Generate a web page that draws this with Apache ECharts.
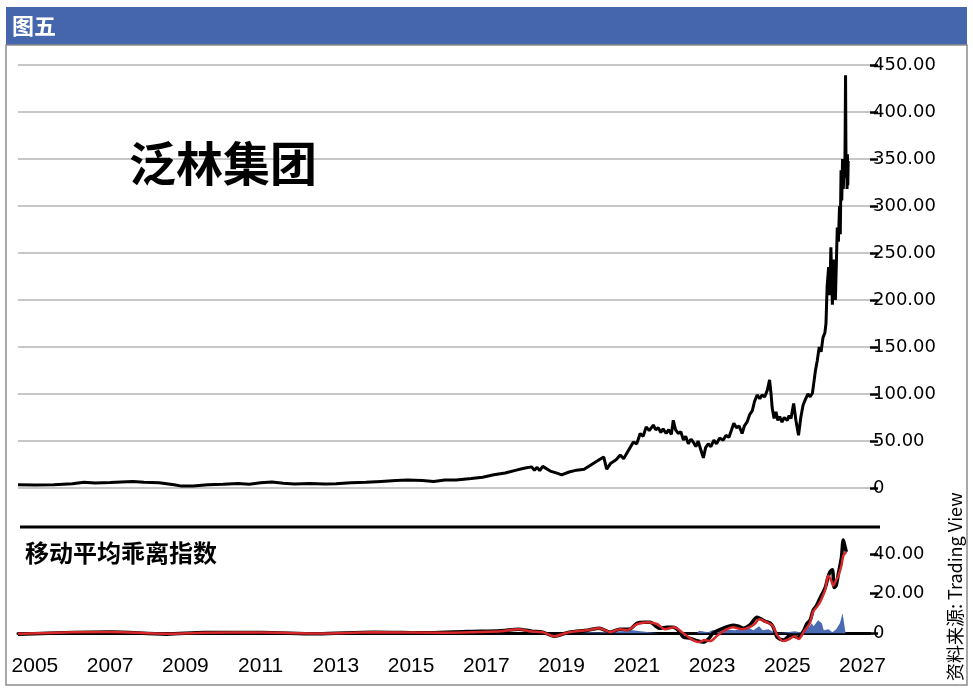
<!DOCTYPE html>
<html>
<head>
<meta charset="utf-8">
<script src="https://cdn.jsdelivr.net/npm/echarts@6/dist/echarts.min.js"></script>
<style>
html,body{margin:0;padding:0;background:#fff;}
#chart{width:973px;height:690px;}
</style>
</head>
<body>
<div id="chart"></div>
<script>
// ---- data (decimal years) ----
var yearTicks = [2005, 2007, 2009, 2011, 2013, 2015, 2017, 2019, 2021, 2023, 2025, 2027];
var priceTicks = [0, 50, 100, 150, 200, 250, 300, 350, 400, 450];
var biasTicks = [0, 20, 40];

var priceYears = [2004.55,2005.0,2005.5,2006.0,2006.3,2006.6,2007.0,2007.3,2007.6,2007.9,2008.3,2008.7,2008.9,2009.2,2009.6,2010.0,2010.4,2010.7,2011.0,2011.3,2011.6,2011.9,2012.3,2012.7,2013.0,2013.4,2013.8,2014.2,2014.6,2014.9,2015.3,2015.6,2015.9,2016.2,2016.6,2016.9,2017.2,2017.5,2017.8,2018.0,2018.2,2018.28,2018.35,2018.42,2018.5,2018.7,2018.9,2019.0,2019.2,2019.4,2019.6,2019.8,2020.0,2020.12,2020.2,2020.3,2020.45,2020.56,2020.65,2020.75,2020.91,2021.0,2021.09,2021.17,2021.25,2021.33,2021.44,2021.5,2021.57,2021.64,2021.7,2021.78,2021.85,2021.92,2021.97,2022.03,2022.1,2022.17,2022.24,2022.3,2022.37,2022.44,2022.5,2022.57,2022.63,2022.7,2022.77,2022.83,2022.9,2022.97,2023.05,2023.12,2023.2,2023.3,2023.37,2023.45,2023.52,2023.58,2023.65,2023.72,2023.8,2023.86,2023.93,2024.0,2024.07,2024.13,2024.2,2024.27,2024.33,2024.4,2024.47,2024.53,2024.57,2024.6,2024.65,2024.7,2024.75,2024.8,2024.86,2024.92,2025.0,2025.05,2025.1,2025.17,2025.23,2025.3,2025.36,2025.42,2025.48,2025.55,2025.61,2025.67,2025.7,2025.75,2025.8,2025.85,2025.9,2025.95,2026.0,2026.03,2026.06,2026.1,2026.13,2026.16,2026.2,2026.24,2026.28,2026.33,2026.36,2026.39,2026.41,2026.43,2026.45,2026.47,2026.49,2026.51,2026.53,2026.54,2026.55,2026.56,2026.57,2026.58,2026.59,2026.6,2026.61,2026.62];
var priceValues = [3.5,3.2,3.4,4.5,6.0,5.2,5.8,6.5,7.0,6.0,5.5,3.5,2.0,2.2,3.5,4.0,4.8,4.0,5.5,6.5,5.0,4.3,4.8,4.3,4.6,5.5,6.0,7.0,8.0,8.5,8.0,7.0,8.5,8.5,10.0,11.5,14.0,16.0,19.0,21.0,22.5,19.0,22.0,18.5,23.0,18.0,15.5,14.0,17.0,19.0,20.0,25.0,30.0,33.0,20.0,26.0,30.0,35.0,31.0,38.0,49.0,47.0,58.0,55.0,65.0,61.0,67.0,62.0,64.0,59.0,63.0,58.0,62.0,57.0,72.0,62.0,58.0,60.0,51.0,55.0,47.0,52.0,49.0,44.0,50.0,41.0,32.0,43.0,47.0,44.0,51.0,47.0,53.0,51.0,56.0,54.0,62.0,69.0,64.0,66.0,58.0,66.0,70.0,78.0,82.0,92.0,99.0,95.0,99.0,97.0,104.0,115.0,100.0,85.0,74.0,81.0,72.0,76.0,70.0,75.0,72.0,77.0,74.0,90.0,72.0,56.0,75.0,88.0,94.0,100.0,97.0,101.0,110.0,125.0,136.0,150.0,145.0,160.0,165.0,175.0,214.0,235.0,205.0,256.0,195.0,243.0,200.0,277.0,262.0,300.0,270.0,338.0,306.0,350.0,318.0,345.0,330.0,380.0,439.0,360.0,330.0,352.0,318.0,355.0,322.0,348.0,320.0];

var biasYears = [2004.55,2006.0,2007.0,2008.5,2009.5,2011.0,2012.5,2014.0,2015.5,2016.5,2017.4,2017.85,2018.2,2018.5,2018.8,2019.2,2019.7,2020.0,2020.3,2020.55,2020.8,2021.0,2021.2,2021.35,2021.6,2021.8,2021.97,2022.1,2022.24,2022.4,2022.55,2022.77,2022.9,2023.03,2023.3,2023.56,2023.7,2023.83,2024.0,2024.2,2024.32,2024.41,2024.55,2024.63,2024.73,2024.9,2025.08,2025.18,2025.27,2025.4,2025.53,2025.61,2025.69,2025.78,2025.88,2026.01,2026.08,2026.14,2026.2,2026.25,2026.3,2026.36,2026.44,2026.49,2026.53,2026.57];
var biasValues = [-0.5,0.3,0.6,-0.5,0.3,0.3,-0.3,0.5,0.2,0.8,1.2,2.0,1.0,0.5,-1.5,0.5,1.5,2.5,0.5,2.0,2.0,5.0,5.5,5.5,2.5,3.0,3.0,1.5,-2.0,-2.5,-3.5,-4.5,-3.0,0.0,2.5,4.0,3.5,2.5,4.0,8.0,7.0,6.0,5.0,3.0,-2.0,-3.5,-1.0,-1.5,-2.0,0.0,5.0,6.6,11.6,14.0,18.0,23.0,28.0,31.0,32.0,23.0,24.0,30.0,38.0,47.0,44.0,41.0];

var signalYears = [2004.55,2006.0,2007.0,2008.5,2009.5,2011.0,2012.5,2014.0,2015.8,2016.8,2017.4,2017.85,2018.2,2018.5,2018.8,2019.2,2019.7,2020.0,2020.3,2020.55,2020.75,2021.0,2021.3,2021.55,2021.75,2022.0,2022.2,2022.45,2022.65,2022.8,2022.95,2023.15,2023.35,2023.55,2023.8,2024.0,2024.15,2024.25,2024.45,2024.6,2024.75,2024.9,2025.05,2025.2,2025.3,2025.45,2025.6,2025.69,2025.8,2025.88,2026.01,2026.09,2026.16,2026.22,2026.28,2026.36,2026.44,2026.49,2026.57];
var signalValues = [-0.3,0.4,0.6,-0.3,0.2,0.3,-0.2,0.4,0.2,0.6,1.0,2.0,0.8,0.5,-1.5,0.5,1.5,2.5,0.5,2.0,1.5,4.5,5.5,4.5,2.0,3.0,0.5,-3.0,-4.5,-3.5,-4.0,-1.0,1.5,3.0,2.0,3.0,5.0,7.0,5.5,4.0,-1.5,-4.0,-3.0,-1.5,-3.0,1.0,5.0,11.0,13.5,16.0,22.0,29.0,27.0,24.0,26.0,29.0,34.0,39.0,41.0];

var histYears = [2004.55,2019.5,2019.7,2020.0,2020.5,2020.9,2021.1,2021.4,2021.6,2022.6,2022.65,2022.7,2022.9,2023.0,2023.3,2023.6,2023.8,2024.0,2024.1,2024.25,2024.35,2024.5,2024.6,2024.7,2025.0,2025.2,2025.35,2025.45,2025.52,2025.58,2025.65,2025.7,2025.75,2025.82,2025.87,2025.92,2025.97,2026.02,2026.1,2026.2,2026.3,2026.4,2026.47,2026.52,2026.55];
var histValues = [0,0,0.5,0.3,0.8,1.5,1.0,0.3,0,0,1.2,0.3,0.5,1.5,2.0,1.5,2.0,2.5,1.5,3.5,1.5,2.0,1.0,0,0.5,1.0,0.5,2.5,4.0,3.0,5.0,3.5,4.0,6.5,7.0,5.0,1.5,1.0,2.0,0.5,2.0,5.0,10.0,4.0,0];

function pairs(xs, ys) { return xs.map(function (x, i) { return [x, ys[i]]; }); }
function fmt(v) { return v === 0 ? '0' : v.toFixed(2); }

var chart = echarts.init(document.getElementById('chart'), null, {renderer: 'canvas'});
var latin = 'Liberation Sans, Arial, sans-serif';
var tickFont = '"DejaVu Sans", sans-serif';
var cjk = '"Noto Sans CJK SC", sans-serif';

chart.setOption({
  animation: false,
  backgroundColor: '#ffffff',
  grid: [
    {left: 18, right: 103, top: 65, height: 423},
    {left: 18, right: 103, top: 534, height: 119}
  ],
  xAxis: [
    {type: 'value', gridIndex: 0, min: 2004.55, max: 2027.2,
     axisLine: {show: false}, axisTick: {show: false}, axisLabel: {show: false}, splitLine: {show: false}},
    {type: 'value', gridIndex: 1, min: 2004.55, max: 2027.2,
     axisLine: {show: true, onZero: true, lineStyle: {color: '#000', width: 3}},
     axisTick: {show: false}, splitLine: {show: false},
     axisLabel: {customValues: yearTicks, color: '#000', fontSize: 21, fontFamily: latin, margin: 3,
                 formatter: function (v) { return String(v); }}}
  ],
  yAxis: [
    {type: 'value', gridIndex: 0, position: 'right', min: 0, max: 450,
     axisLine: {show: false},
     axisTick: {show: true, customValues: priceTicks, length: 8, lineStyle: {color: '#000', width: 2.5}},
     axisLabel: {customValues: priceTicks, color: '#000', fontSize: 18, fontFamily: tickFont, margin: 3, formatter: fmt},
     splitLine: {show: true, lineStyle: {color: '#b5b5b5', width: 1.5}}},
    {type: 'value', gridIndex: 1, position: 'right', min: -10, max: 50,
     axisLine: {show: false},
     axisTick: {show: true, customValues: biasTicks, length: 8, lineStyle: {color: '#000', width: 2.5}},
     axisLabel: {customValues: biasTicks, color: '#000', fontSize: 18, fontFamily: tickFont, margin: 3, formatter: fmt},
     splitLine: {show: false}}
  ],
  series: [
    {type: 'line', xAxisIndex: 0, yAxisIndex: 0, data: pairs(priceYears, priceValues),
     showSymbol: false, lineStyle: {color: '#000', width: 3}, z: 3},
    {type: 'line', xAxisIndex: 1, yAxisIndex: 1, data: pairs(histYears, histValues),
     showSymbol: false, lineStyle: {width: 0}, areaStyle: {color: '#4a6bb3', opacity: 1}, z: 2},
    {type: 'line', xAxisIndex: 1, yAxisIndex: 1, data: pairs(biasYears, biasValues), smooth: 0.3,
     showSymbol: false, lineStyle: {color: '#000', width: 3.5}, z: 3},
    {type: 'line', xAxisIndex: 1, yAxisIndex: 1, data: pairs(signalYears, signalValues), smooth: 0.3,
     showSymbol: false, lineStyle: {color: '#d8282a', width: 2.5}, z: 4}
  ],
  graphic: [
    {type: 'rect', shape: {x: 6, y: 7, width: 961, height: 38}, style: {fill: '#4565ad'}, z: 0},
    {type: 'rect', shape: {x: 6, y: 45, width: 961, height: 640}, style: {fill: 'none', stroke: '#8c8c8c', lineWidth: 1.5}, z: 0},
    {type: 'line', shape: {x1: 20, y1: 527, x2: 880, y2: 527}, style: {stroke: '#000', lineWidth: 3}, z: 10},
    {type: 'text', x: 12, y: 26, style: {text: '图五', fill: '#fff', font: 'bold 22px ' + cjk, verticalAlign: 'middle', align: 'left'}, z: 10},
    {type: 'text', x: 129, y: 163, style: {text: '泛林集团', fill: '#000', font: 'bold 47px ' + cjk, verticalAlign: 'middle', align: 'left'}, z: 10},
    {type: 'text', x: 25, y: 553, style: {text: '移动平均乖离指数', fill: '#000', font: 'bold 24px ' + cjk, verticalAlign: 'middle', align: 'left'}, z: 10},
    {type: 'text', x: 955, y: 681, rotation: Math.PI / 2,
     style: {text: '资料来源: Trading View', fill: '#000', font: '18px ' + cjk, verticalAlign: 'middle', align: 'left'}, z: 10}
  ]
});
</script>
</body>
</html>
